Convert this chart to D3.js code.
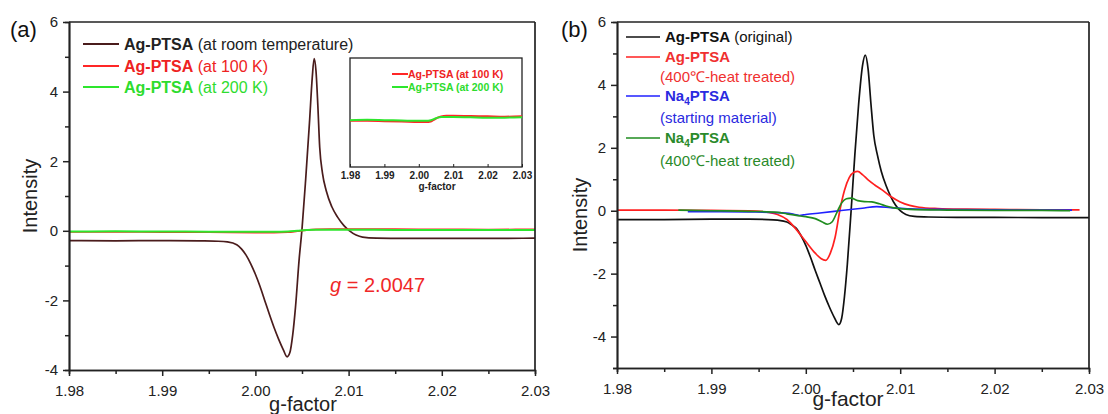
<!DOCTYPE html>
<html><head><meta charset="utf-8">
<script src="https://cdn.jsdelivr.net/npm/d3@7/dist/d3.min.js"></script>
<style>
body{margin:0;background:#fff}
svg{display:block}
text{font-family:"Liberation Sans",Arial,Helvetica,sans-serif}
</style>
</head><body>
<svg id="c" width="1108" height="414"></svg>
<script>
// ---------- tick labels ----------
const xTicks = [1.98, 1.99, 2.00, 2.01, 2.02, 2.03];
const xMinor = [1.985, 1.995, 2.005, 2.015, 2.025];
const yTicks = [6, 4, 2, 0, -2, -4];
const yMinorA = [5, 3, 1, -1, -3];
const yMinorB = [5, 3, 1, -1, -3, -5];

// ---------- panel (a) data ----------
const roomG = [1.980,1.985,1.990,1.994,1.996,1.997,1.998,1.9985,1.999,1.9995,2.000,2.0005,2.001,2.0015,2.002,2.0025,2.003,2.0034,2.0037,2.0040,2.0043,2.0047,2.0050,2.0054,2.0058,2.0061,2.0063,2.0065,2.0067,2.0069,2.0072,2.0076,2.0082,2.0088,2.0095,2.0101,2.0108,2.0115,2.013,2.016,2.020,2.025,2.030];
const roomI = [-0.28,-0.29,-0.28,-0.29,-0.30,-0.32,-0.40,-0.52,-0.70,-0.95,-1.25,-1.60,-2.00,-2.40,-2.78,-3.12,-3.42,-3.62,-3.50,-3.00,-2.20,-0.80,0.05,1.50,3.10,4.40,4.95,4.60,3.60,2.40,1.65,1.15,0.69,0.40,0.15,0.00,-0.12,-0.18,-0.21,-0.22,-0.22,-0.22,-0.21];
const k100G = [1.980,1.985,1.990,1.995,2.000,2.002,2.0035,2.0045,2.0055,2.0065,2.008,2.010,2.015,2.020,2.025,2.030];
const k100I = [-0.03,-0.03,-0.035,-0.04,-0.05,-0.05,-0.04,-0.01,0.02,0.04,0.05,0.05,0.045,0.04,0.035,0.04];
const k200G = [1.980,1.985,1.990,1.995,2.000,2.002,2.0035,2.0045,2.0055,2.0065,2.008,2.010,2.015,2.020,2.025,2.030];
const k200I = [-0.02,-0.015,-0.02,-0.025,-0.03,-0.03,-0.02,0.00,0.02,0.03,0.03,0.03,0.025,0.02,0.02,0.025];

// ---------- panel (b) data ----------
const origG = [1.980,1.985,1.990,1.994,1.996,1.997,1.998,1.9985,1.999,1.9995,2.000,2.0005,2.001,2.0015,2.002,2.0025,2.003,2.0035,2.0038,2.0041,2.0044,2.0048,2.0052,2.0056,2.0060,2.0063,2.0066,2.0069,2.0072,2.0076,2.0080,2.0085,2.0090,2.0095,2.0100,2.0106,2.0115,2.013,2.016,2.020,2.025,2.030];
const origI = [-0.28,-0.28,-0.27,-0.27,-0.28,-0.30,-0.36,-0.45,-0.56,-0.80,-1.10,-1.48,-1.90,-2.30,-2.70,-3.06,-3.38,-3.62,-3.42,-2.72,-1.70,0.00,1.80,3.40,4.60,4.95,4.50,3.40,2.40,1.75,1.25,0.80,0.45,0.18,0.00,-0.12,-0.18,-0.20,-0.21,-0.21,-0.22,-0.22];
const heatG = [1.980,1.985,1.990,1.994,1.996,1.997,1.998,1.999,2.000,2.001,2.0016,2.0021,2.0026,2.0031,2.0036,2.0041,2.0046,2.0051,2.0055,2.0060,2.0066,2.0073,2.0080,2.0090,2.0100,2.0110,2.0120,2.0140,2.0170,2.0200,2.0250,2.0290];
const heatI = [0.02,0.02,0.01,0.00,-0.05,-0.12,-0.28,-0.60,-0.98,-1.35,-1.52,-1.58,-1.35,-0.85,0.00,0.65,1.05,1.22,1.25,1.15,0.98,0.82,0.68,0.45,0.28,0.17,0.11,0.07,0.05,0.04,0.03,0.03];
const naG = [1.9875,1.990,1.994,1.997,1.9985,1.9993,2.000,2.0015,2.003,2.0045,2.006,2.0075,2.009,2.011,2.015,2.020,2.025,2.0282];
const naI = [-0.03,-0.03,-0.04,-0.06,-0.10,-0.15,-0.12,-0.07,-0.02,0.03,0.08,0.13,0.10,0.06,0.04,0.03,0.02,0.02];
const naHeatG = [1.9865,1.990,1.994,1.997,1.998,1.999,2.000,2.001,2.0017,2.0023,2.0028,2.0033,2.0038,2.0043,2.0048,2.0055,2.0062,2.0070,2.0078,2.0085,2.0095,2.0110,2.0150,2.0200,2.0250,2.0280];
const naHeatI = [0.02,0.00,-0.02,-0.05,-0.10,-0.15,-0.19,-0.25,-0.35,-0.43,-0.35,-0.05,0.25,0.38,0.40,0.32,0.29,0.28,0.22,0.15,0.08,0.04,0.02,0.01,0.01,0.00];

const zip = (g, v) => g.map((d, i) => [d, v[i]]);
const svg = d3.select("#c");
const AX = "#222";

function frame(x, y, opt) {
  const g = svg.append("g");
  const [xa, xb] = x.range(), [yb, ya] = y.range();
  g.append("g").attr("transform", `translate(0,${yb})`)
    .call(d3.axisBottom(x).tickValues(xMinor).tickSize(opt.minor).tickFormat(""));
  g.append("g").attr("transform", `translate(${xa},0)`)
    .call(d3.axisLeft(y).tickValues(opt.yMinor).tickSize(opt.minor).tickFormat(""));
  g.append("g").attr("transform", `translate(0,${yb})`)
    .call(d3.axisBottom(x).tickValues(xTicks).tickSize(6).tickSizeOuter(0).tickPadding(opt.xPad).tickFormat(d3.format(".2f")));
  g.append("g").attr("transform", `translate(${xa},0)`)
    .call(d3.axisLeft(y).tickValues(yTicks).tickSize(6).tickSizeOuter(0).tickPadding(5).tickFormat(d => String(d)));
  g.selectAll(".domain").attr("stroke", AX).attr("stroke-width", 1.7);
  g.selectAll(".tick line").attr("stroke", AX).attr("stroke-width", 1.5);
  g.selectAll(".tick text").attr("fill", "#222").style("font-size", "15px")
    .style("font-family", '"Liberation Sans",Arial,sans-serif');
  g.append("line").attr("x1", xa).attr("x2", xb).attr("y1", ya).attr("y2", ya).attr("stroke", AX).attr("stroke-width", 1.7);
  g.append("line").attr("x1", xb).attr("x2", xb).attr("y1", ya).attr("y2", yb).attr("stroke", AX).attr("stroke-width", 1.7);
}

function curve(x, y, data, color, w) {
  const line = d3.line().x(d => x(d[0])).y(d => y(d[1])).curve(d3.curveMonotoneX);
  svg.append("path").datum(data).attr("d", line).attr("fill", "none")
    .attr("stroke", color).attr("stroke-width", w || 1.6).attr("stroke-linejoin", "round");
}

// ================= PANEL A =================
const xA = d3.scaleLinear().domain([1.98, 2.03]).range([69, 535]);
const yA = d3.scaleLinear().domain([-4, 6]).range([370, 22]);
const cRoom = "#4a1c1c", cRed = "#ff2626", cLime = "#2de62d";

curve(xA, yA, zip(roomG, roomI), cRoom, 1.7);
curve(xA, yA, zip(k100G, k100I), cRed, 1.8);
curve(xA, yA, zip(k200G, k200I), cLime, 2);
frame(xA, yA, {yMinor: yMinorA, minor: 4, xPad: 9});

svg.append("text").attr("x", 10).attr("y", 37).style("font-size", "22px").attr("fill", "#111").text("(a)");
svg.append("text").attr("transform", "translate(37,196) rotate(-90)").attr("text-anchor", "middle")
  .style("font-size", "20px").attr("fill", "#222").text("Intensity");
svg.append("text").attr("x", 303).attr("y", 411).attr("text-anchor", "middle")
  .style("font-size", "20px").attr("fill", "#222").text("g-factor");

const legA = [
  {c: cRoom, t: "(at room temperature)", tc: "#222", y: 44},
  {c: cRed, t: "(at 100 K)", tc: "#ee2222", y: 66},
  {c: cLime, t: "(at 200 K)", tc: "#2edc2e", y: 87}
];
legA.forEach(d => {
  svg.append("line").attr("x1", 83).attr("x2", 119).attr("y1", d.y).attr("y2", d.y).attr("stroke", d.c).attr("stroke-width", 1.8);
  const t = svg.append("text").attr("x", 124).attr("y", d.y + 5.7).style("font-size", "16px").attr("fill", d.tc);
  t.append("tspan").style("font-weight", "bold").text("Ag-PTSA");
  t.append("tspan").text(" " + d.t);
});

const gt = svg.append("text").attr("x", 330).attr("y", 292).style("font-size", "20px").attr("fill", "#f02828");
gt.append("tspan").style("font-style", "italic").text("g");
gt.append("tspan").text(" = 2.0047");

// inset
const xI = d3.scaleLinear().domain([1.98, 2.03]).range([350, 522]);
const yI = d3.scaleLinear().domain([-0.75, 0.95]).range([167, 58]);
svg.append("rect").attr("x", 350).attr("y", 58).attr("width", 172).attr("height", 109)
  .attr("fill", "#fff").attr("stroke", AX).attr("stroke-width", 1.3);
curve(xI, yI, zip(k100G, k100I), cRed, 2);
curve(xI, yI, zip(k200G, k200I), cLime, 2);
const ia = svg.append("g").attr("transform", "translate(0,167)")
  .call(d3.axisBottom(xI).tickValues(xTicks).tickSize(-3).tickSizeOuter(0).tickPadding(5).tickFormat(d3.format(".2f")));
ia.select(".domain").remove();
ia.selectAll(".tick line").attr("stroke", AX);
ia.selectAll(".tick text").attr("fill", "#222").style("font-size", "10px").style("font-weight", "bold")
  .style("font-family", '"Liberation Sans",Arial,sans-serif');
svg.append("text").attr("x", 437).attr("y", 190).attr("text-anchor", "middle")
  .style("font-size", "10px").style("font-weight", "bold").attr("fill", "#222").text("g-factor");
[{c: cRed, tc: "#ee2222", t: "Ag-PTSA (at 100 K)", y: 74}, {c: cLime, tc: "#2edc2e", t: "Ag-PTSA (at 200 K)", y: 87}].forEach(d => {
  svg.append("line").attr("x1", 392).attr("x2", 408).attr("y1", d.y).attr("y2", d.y).attr("stroke", d.c).attr("stroke-width", 2);
  svg.append("text").attr("x", 408).attr("y", d.y + 3.8).style("font-size", "10.5px").style("font-weight", "bold")
    .attr("fill", d.tc).text(d.t);
});

// ================= PANEL B =================
const xB = d3.scaleLinear().domain([1.98, 2.03]).range([617, 1089]);
const yB = d3.scaleLinear().domain([-5, 6]).range([368, 22]);
const cBlk = "#111", cR = "#ff2020", cBlu = "#2020ff", cGrn = "#1f8c1f";

curve(xB, yB, zip(origG, origI), cBlk, 1.7);
curve(xB, yB, zip(heatG, heatI), cR, 1.7);
curve(xB, yB, zip(naG, naI), cBlu, 1.6);
curve(xB, yB, zip(naHeatG, naHeatI), cGrn, 1.7);
frame(xB, yB, {yMinor: yMinorB, minor: 4, xPad: 9});

svg.append("text").attr("x", 561).attr("y", 37).style("font-size", "22px").attr("fill", "#111").text("(b)");
svg.append("text").attr("transform", "translate(587,215) rotate(-90)").attr("text-anchor", "middle")
  .style("font-size", "20px").attr("fill", "#222").text("Intensity");
svg.append("text").attr("x", 848).attr("y", 406).attr("text-anchor", "middle")
  .style("font-size", "21px").attr("fill", "#222").text("g-factor");

const legB = [
  {c: cBlk, tc: "#111", y: 37, name: "Ag-PTSA", sub: null, rest: " (original)"},
  {c: cR, tc: "#f03030", y: 57, name: "Ag-PTSA", sub: null, rest: "", note: "(400\u2103-heat treated)", ny: 77},
  {c: cBlu, tc: "#2a2ae0", y: 96, name: "Na", sub: "4", after: "PTSA", rest: "", note: "(starting material)", ny: 118},
  {c: cGrn, tc: "#2a8a2a", y: 138, name: "Na", sub: "4", after: "PTSA", rest: "", note: "(400\u2103-heat treated)", ny: 161}
];
legB.forEach(d => {
  svg.append("line").attr("x1", 626).attr("x2", 660).attr("y1", d.y).attr("y2", d.y).attr("stroke", d.c).attr("stroke-width", 1.7);
  const t = svg.append("text").attr("x", 665).attr("y", d.y + 5.4).style("font-size", "15px").attr("fill", d.tc);
  t.append("tspan").style("font-weight", "bold").text(d.name);
  if (d.sub) {
    t.append("tspan").style("font-weight", "bold").style("font-size", "10px").attr("dy", 4).text(d.sub);
    t.append("tspan").style("font-weight", "bold").attr("dy", -4).text(d.after);
  }
  if (d.rest) t.append("tspan").text(d.rest);
  if (d.note) svg.append("text").attr("x", 660).attr("y", d.ny + 5.4).style("font-size", "15px").attr("fill", d.tc).text(d.note);
});
</script>
</body></html>
